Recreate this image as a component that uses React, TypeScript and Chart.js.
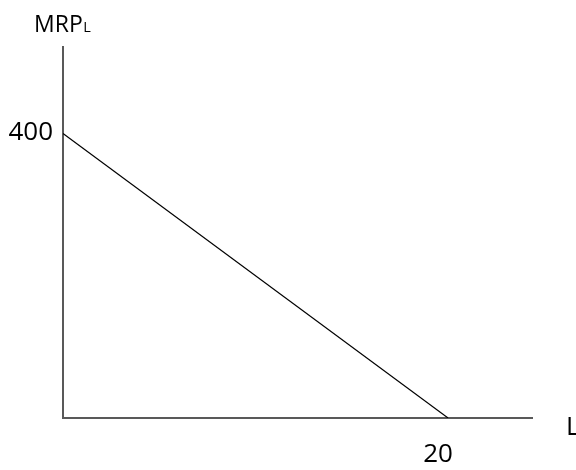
import React, { useEffect, useRef } from "react";
import { Chart, registerables } from "chart.js";

Chart.register(...registerables);

// Data
const labourValues = [0, 20];
const mrpValues = [400, 0];
const yTickLabels = [400];
const xTickLabels = [20];
const yAxisTitle = "MRP";
const yAxisTitleSub = "L";
const xAxisTitle = "L";

const X_MAX = 24.36;
const Y_MAX = 521.6;

const FONT = "'Open Sans', 'Liberation Sans', sans-serif";

const textPlugin = {
  id: "econLabels",
  afterDraw(chart: any) {
    const ctx = chart.ctx;
    const xs = chart.scales.x;
    const ys = chart.scales.y;
    const area = chart.chartArea;
    ctx.save();
    ctx.fillStyle = "#000";
    ctx.textBaseline = "alphabetic";

    // y tick labels
    ctx.font = `26px ${FONT}`;
    ctx.textAlign = "right";
    yTickLabels.forEach((v) => {
      const py = ys.getPixelForValue(v);
      ctx.fillText(String(v), area.left - 10, py + 6.5);
    });

    // x tick labels
    ctx.textAlign = "center";
    xTickLabels.forEach((v) => {
      const px = xs.getPixelForValue(v);
      ctx.fillText(String(v), px - 10, area.bottom + 43.5);
    });

    // x axis title
    ctx.textAlign = "left";
    ctx.fillText(xAxisTitle, area.right + 34, area.bottom + 17);

    // y axis title with subscript
    ctx.font = `23px ${FONT}`;
    ctx.textAlign = "left";
    ctx.fillText(yAxisTitle, 34, area.top - 15.3);
    const w = ctx.measureText(yAxisTitle).width;
    ctx.font = `14.5px ${FONT}`;
    ctx.fillText(yAxisTitleSub, 34 + w + 0.5, area.top - 14.7);
    ctx.restore();
  },
};

export default function App() {
  const canvasRef = useRef<HTMLCanvasElement | null>(null);

  useEffect(() => {
    const canvas = canvasRef.current;
    if (!canvas) return;
    const chart = new Chart(canvas, {
      type: "scatter",
      data: {
        datasets: [
          {
            data: labourValues.map((x, i) => ({ x, y: mrpValues[i] })),
            showLine: true,
            borderColor: "#000",
            borderWidth: 1.2,
            pointRadius: 0,
            pointHoverRadius: 0,
            fill: false,
          },
        ],
      },
      options: {
        animation: false,
        responsive: false,
        devicePixelRatio: 1,
        events: [],
        layout: {
          padding: { left: 63, top: 47, right: 44, bottom: 52 },
        },
        plugins: {
          legend: { display: false },
          tooltip: { enabled: false },
          title: { display: false },
        },
        scales: {
          x: {
            type: "linear",
            min: 0,
            max: X_MAX,
            ticks: { display: false },
            grid: { display: false, drawTicks: false },
            border: { display: true, color: "#595959", width: 2 },
          },
          y: {
            type: "linear",
            min: 0,
            max: Y_MAX,
            ticks: { display: false },
            grid: { display: false, drawTicks: false },
            border: { display: true, color: "#595959", width: 2 },
          },
        },
      },
      plugins: [textPlugin],
    });
    return () => chart.destroy();
  }, []);

  return (
    <div style={{ position: "fixed", left: 0, top: 0, width: 576, height: 470, background: "#fff" }}>
      <canvas ref={canvasRef} width={576} height={470} style={{ width: 576, height: 470, display: "block" }} />
    </div>
  );
}
